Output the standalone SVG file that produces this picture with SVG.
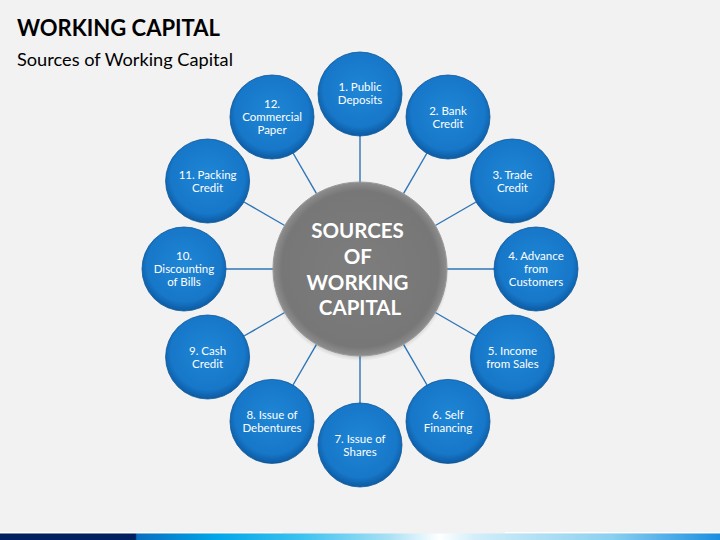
<svg xmlns="http://www.w3.org/2000/svg" width="720" height="540" viewBox="0 0 720 540">
<defs>
<radialGradient id="blue" cx="50%" cy="45%" r="55%">
<stop offset="0" stop-color="#1f86d6"/>
<stop offset="0.8" stop-color="#1777c8"/>
<stop offset="1" stop-color="#0c5aa2"/>
</radialGradient>
<radialGradient id="gray" cx="50%" cy="50%" r="50%">
<stop offset="0" stop-color="#7d7d7d"/>
<stop offset="0.9" stop-color="#777777"/>
<stop offset="1" stop-color="#8e8e8e"/>
</radialGradient>
<radialGradient id="shadow" cx="50%" cy="50%" r="50%">
<stop offset="0.85" stop-color="#000" stop-opacity="0.35"/>
<stop offset="1" stop-color="#000" stop-opacity="0"/>
</radialGradient>
<linearGradient id="bar" x1="0" y1="0" x2="720" y2="0" gradientUnits="userSpaceOnUse">
<stop offset="0" stop-color="#002060"/>
<stop offset="0.188" stop-color="#002060"/>
<stop offset="0.19" stop-color="#0a6ec0"/>
<stop offset="0.3" stop-color="#00a6e8"/>
<stop offset="0.42" stop-color="#3cc2ef"/>
<stop offset="0.54" stop-color="#a8e0f4"/>
<stop offset="0.61" stop-color="#ffffff"/>
<stop offset="0.66" stop-color="#d2eef9"/>
<stop offset="0.85" stop-color="#8ad0f0"/>
<stop offset="1" stop-color="#1a8ee0"/>
</linearGradient>
<style>
.node{fill:url(#blue);stroke:#0b5799;stroke-width:0.8}
.nt{font-family:Lato,"Open Sans",sans-serif;font-size:11.5px;fill:#ffffff;text-anchor:middle}
.con line{stroke:#2e75b6;stroke-width:1.4}
</style>
</defs>
<rect width="720" height="540" fill="#f2f2f2"/>
<text x="17" y="36" font-family="Lato,'Open Sans',sans-serif" font-weight="bold" font-size="22" fill="#000">WORKING CAPITAL</text>
<text x="17" y="66" font-family="Lato,'Open Sans',sans-serif" font-size="18.2" fill="#000">Sources of Working Capital</text>
<g class="con" id="connectors">
<line x1="360" y1="182" x2="360" y2="135"/>
<line x1="403.5" y1="193.7" x2="427" y2="153"/>
<line x1="435.3" y1="225.5" x2="476" y2="202"/>
<line x1="447" y1="269" x2="494" y2="269"/>
<line x1="435.3" y1="312.5" x2="476" y2="336"/>
<line x1="403.5" y1="344.3" x2="427" y2="385"/>
<line x1="360" y1="356" x2="360" y2="403"/>
<line x1="316.5" y1="344.3" x2="293" y2="385"/>
<line x1="284.7" y1="312.5" x2="244" y2="336"/>
<line x1="273" y1="269" x2="226" y2="269"/>
<line x1="284.7" y1="225.5" x2="244" y2="202"/>
<line x1="316.5" y1="193.7" x2="293" y2="153"/>
</g>
<g id="center">
<circle cx="360" cy="272" r="89" fill="url(#shadow)"/>
<circle cx="360" cy="269" r="87" fill="url(#gray)" stroke="#9a9a9a" stroke-width="1"/>
<text font-family="Lato,'Open Sans',sans-serif" font-weight="bold" font-size="20.5" fill="#fff" text-anchor="middle">
<tspan x="360" y="238">SOURCES</tspan>
<tspan x="360" y="264">OF</tspan>
<tspan x="360" y="290">WORKING</tspan>
<tspan x="360" y="315">CAPITAL</tspan>
</text>
</g>
<g id="n1"><circle class="node" cx="360" cy="94" r="42"/><text class="nt"><tspan x="360" y="91">1. Public</tspan><tspan x="360" y="104">Deposits</tspan></text></g>
<g id="n2"><circle class="node" cx="448" cy="117" r="42"/><text class="nt"><tspan x="448" y="115">2. Bank</tspan><tspan x="448" y="128">Credit</tspan></text></g>
<g id="n3"><circle class="node" cx="512.4" cy="181" r="42"/><text class="nt"><tspan x="512.4" y="179">3. Trade</tspan><tspan x="512.4" y="192">Credit</tspan></text></g>
<g id="n4"><circle class="node" cx="536" cy="269" r="42"/><text class="nt"><tspan x="536" y="260">4. Advance</tspan><tspan x="536" y="273">from</tspan><tspan x="536" y="286">Customers</tspan></text></g>
<g id="n5"><circle class="node" cx="512.4" cy="357" r="42"/><text class="nt"><tspan x="512.4" y="355">5. Income</tspan><tspan x="512.4" y="368">from Sales</tspan></text></g>
<g id="n6"><circle class="node" cx="448" cy="421.4" r="42"/><text class="nt"><tspan x="448" y="419">6. Self</tspan><tspan x="448" y="432">Financing</tspan></text></g>
<g id="n7"><circle class="node" cx="360" cy="445" r="42"/><text class="nt"><tspan x="360" y="443">7. Issue of</tspan><tspan x="360" y="456">Shares</tspan></text></g>
<g id="n8"><circle class="node" cx="272" cy="421.4" r="42"/><text class="nt"><tspan x="272" y="419">8. Issue of</tspan><tspan x="272" y="432">Debentures</tspan></text></g>
<g id="n9"><circle class="node" cx="207.6" cy="357" r="42"/><text class="nt"><tspan x="207.6" y="355">9. Cash</tspan><tspan x="207.6" y="368">Credit</tspan></text></g>
<g id="n10"><circle class="node" cx="184" cy="269" r="42"/><text class="nt"><tspan x="184" y="260">10.</tspan><tspan x="184" y="273">Discounting</tspan><tspan x="184" y="286">of Bills</tspan></text></g>
<g id="n11"><circle class="node" cx="207.6" cy="181" r="42"/><text class="nt"><tspan x="207.6" y="179">11. Packing</tspan><tspan x="207.6" y="192">Credit</tspan></text></g>
<g id="n12"><circle class="node" cx="272" cy="117" r="42"/><text class="nt"><tspan x="272" y="108">12.</tspan><tspan x="272" y="121">Commercial</tspan><tspan x="272" y="134">Paper</tspan></text></g>
<rect x="0" y="532" width="282" height="1.2" fill="#ffffff"/>
<rect x="505" y="532" width="215" height="1.2" fill="#ffffff"/>
<rect x="0" y="533.5" width="720" height="6.5" fill="url(#bar)"/>
</svg>
